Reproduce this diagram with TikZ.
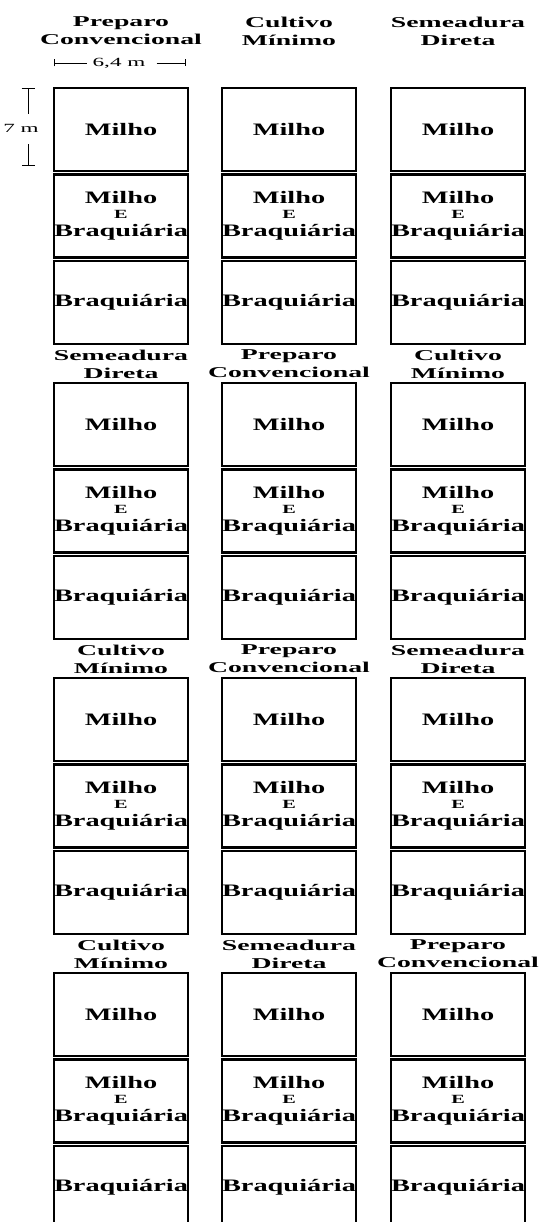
\documentclass[tikz,border=0pt]{standalone}
\usepackage{fontspec}
\setmainfont{Liberation Serif}[FakeStretch=1.62]
\newfontfamily\hdrfont{Liberation Serif}[FakeStretch=1.85]
\usetikzlibrary{arrows.meta,calc}
\tikzset{
  plot/.style  ={rectangle, draw=black, line width=2.6pt, minimum width=134pt,
                 minimum height=83pt, inner sep=0pt, outer sep=0pt, align=center,
                 font=\fontsize{17.5}{17}\selectfont\bfseries},
  hdr/.style   ={align=center, inner sep=0pt, font=\hdrfont\fontsize{15}{18}\selectfont\bfseries},
  dimtxt/.style={inner sep=0pt, font=\hdrfont\fontsize{12.5}{12.5}\selectfont},
  dim/.style   ={line width=0.9pt},
}
\newcommand{\mix}{Milho\\[-2pt]{\fontsize{12.5}{12}\selectfont E}\\[1pt]Braquiária}

\begin{document}
\begin{tikzpicture}[x=1pt, y=-1pt]
  \useasboundingbox (0,0) rectangle (541,1222);
  % plots: four blocks, three columns, three crops each
  \foreach \g/\hy/\ha/\hb/\hc in {
      0/57/{Preparo\\Convencional}/{Cultivo\\Mínimo}/{Semeadura\\Direta},
      1/19/{Semeadura\\Direta}/{Preparo\\Convencional}/{Cultivo\\Mínimo},
      2/19/{Cultivo\\Mínimo}/{Preparo\\Convencional}/{Semeadura\\Direta},
      3/19/{Cultivo\\Mínimo}/{Semeadura\\Direta}/{Preparo\\Convencional}}{
    \pgfmathsetmacro{\ytop}{88+295*\g}
    \foreach \c/\x/\h in {1/121/\ha, 2/289/\hb, 3/458/\hc}{
      \node[hdr] (h-\g-\c) at (\x,\ytop-\hy) {\h};
      \node[plot] (m-\g-\c) at (\x,\ytop+41.5) {Milho};
      \node[plot] (mb-\g-\c) at (\x,\ytop+128) {\mix};
      \node[plot] (b-\g-\c) at (\x,\ytop+214.5) {Braquiária};
    }
  }
  % plot size
  \node[dimtxt] (wdt) at (119,63) {6,4 m};
  \coordinate (wl) at (54,63);
  \coordinate (wr) at (186,63);
  \draw[dim, {Bar[width=7pt]}-] (wl) -- ($(wdt.west)+(-5,0)$);
  \draw[dim, -{Bar[width=7pt]}] ($(wdt.east)+(11,0)$) -- (wr);
  \node[dimtxt] (hgt) at (21,128) {7 m};
  \coordinate (ht) at (28,88);
  \coordinate (hb) at (28,166);
  \draw[dim, {Bar[width=13pt]}-] (ht) -- ($(hgt.north -| ht)+(0,-10)$);
  \draw[dim, -{Bar[width=13pt]}] ($(hgt.south -| ht)+(0,12)$) -- (hb);
\end{tikzpicture}
\end{document}
